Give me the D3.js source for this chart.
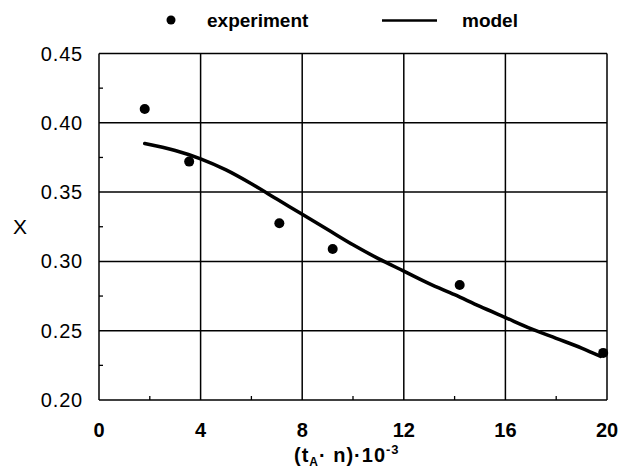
<!DOCTYPE html>
<html>
<head>
<meta charset="utf-8">
<script src="https://cdn.jsdelivr.net/npm/d3@7"></script>
<style>
  html, body { margin: 0; padding: 0; background: #fff; }
  svg { display: block; font-family: "Liberation Sans", Arial, Helvetica, sans-serif; }
</style>
</head>
<body>
<svg id="chart" width="619" height="468"></svg>
<script>
// Measured conversion X versus (tA·n)·10^-3
const expX = [1.8, 3.55, 7.1, 9.2, 14.2, 19.85];
const expY = [0.410, 0.372, 0.3275, 0.309, 0.283, 0.234];

// Model curve
const modelX = [1.8, 3.0, 4.0, 5.0, 6.0, 7.0, 8.0, 9.0, 10.0, 11.0, 12.0, 13.0, 14.0, 15.0, 16.0, 17.0, 18.0, 19.0, 19.75];
const modelY = [0.385, 0.380, 0.374, 0.366, 0.356, 0.345, 0.334, 0.323, 0.312, 0.302, 0.293, 0.284, 0.276, 0.2675, 0.2595, 0.2515, 0.2445, 0.2375, 0.2315];

// Axis ticks
const xTicks = [0, 4, 8, 12, 16, 20];
const xMinorTicks = [2, 6, 10, 14, 18];
const yTicks = [0.20, 0.25, 0.30, 0.35, 0.40, 0.45];
const yMinorTicks = [0.225, 0.275, 0.325, 0.375, 0.425];

const legendLabels = ["experiment", "model"];

const svg = d3.select("#chart");
const margin = { left: 99, right: 12, top: 53.5, bottom: 68 };
const W = 619, H = 468;

const x = d3.scaleLinear().domain([0, 20]).range([margin.left, W - margin.right]);
const y = d3.scaleLinear().domain([0.20, 0.45]).range([H - margin.bottom, margin.top]);

const plot = svg.append("g");

// grid lines at major ticks
plot.selectAll("line.vgrid").data(xTicks).join("line")
  .attr("x1", d => x(d)).attr("x2", d => x(d))
  .attr("y1", y(0.20)).attr("y2", y(0.45))
  .attr("stroke", "#000").attr("stroke-width", 1.5);
plot.selectAll("line.hgrid").data(yTicks).join("line")
  .attr("x1", x(0)).attr("x2", x(20))
  .attr("y1", d => y(d)).attr("y2", d => y(d))
  .attr("stroke", "#000").attr("stroke-width", 1.5);

// minor ticks pointing inward
plot.selectAll("line.xminor").data(xMinorTicks).join("line")
  .attr("x1", d => x(d)).attr("x2", d => x(d))
  .attr("y1", y(0.20)).attr("y2", y(0.20) - 4)
  .attr("stroke", "#000").attr("stroke-width", 1.3);
plot.selectAll("line.yminor").data(yMinorTicks).join("line")
  .attr("x1", x(0)).attr("x2", x(0) + 4)
  .attr("y1", d => y(d)).attr("y2", d => y(d))
  .attr("stroke", "#000").attr("stroke-width", 1.3);

// tick labels
plot.selectAll("text.xt").data(xTicks).join("text")
  .attr("x", d => x(d)).attr("y", 437)
  .attr("text-anchor", "middle")
  .attr("font-size", 20).attr("font-weight", "bold")
  .text(d => d);
plot.selectAll("text.yt").data(yTicks).join("text")
  .attr("x", 83).attr("y", d => y(d) + 7)
  .attr("text-anchor", "end")
  .attr("font-size", 20).attr("letter-spacing", 0.8)
  .text(d => d3.format(".2f")(d));

// axis titles
svg.append("text")
  .attr("x", 20).attr("y", 234)
  .attr("text-anchor", "middle")
  .attr("font-size", 21)
  .text("X");

const xt = svg.append("text")
  .attr("x", 294).attr("y", 462)
  .attr("font-size", 20).attr("font-weight", "bold")
  .attr("letter-spacing", 1);
xt.append("tspan").text("(t");
xt.append("tspan").attr("font-size", 12).attr("dy", 4).text("A");
xt.append("tspan").attr("dy", -4).text("· n)·10");
xt.append("tspan").attr("font-size", 13).attr("dy", -8).text("-3");

// model curve
const line = d3.line()
  .x((d, i) => x(modelX[i]))
  .y(d => y(d))
  .curve(d3.curveMonotoneX);
plot.append("path")
  .datum(modelY)
  .attr("d", line)
  .attr("fill", "none")
  .attr("stroke", "#000")
  .attr("stroke-width", 3.5)
  .attr("stroke-linecap", "round");

// experimental points
plot.selectAll("circle.exp").data(expY).join("circle")
  .attr("cx", (d, i) => x(expX[i]))
  .attr("cy", d => y(d))
  .attr("r", 5)
  .attr("fill", "#000");

// legend
const leg = svg.append("g");
leg.append("circle").attr("cx", 171).attr("cy", 20).attr("r", 4.5).attr("fill", "#000");
leg.append("text").attr("x", 207).attr("y", 27)
  .attr("font-size", 19).attr("font-weight", "bold").text(legendLabels[0]);
leg.append("line").attr("x1", 382).attr("x2", 437).attr("y1", 20.5).attr("y2", 20.5)
  .attr("stroke", "#000").attr("stroke-width", 2.5);
leg.append("text").attr("x", 462).attr("y", 27)
  .attr("font-size", 19).attr("font-weight", "bold").text(legendLabels[1]);
</script>
</body>
</html>
